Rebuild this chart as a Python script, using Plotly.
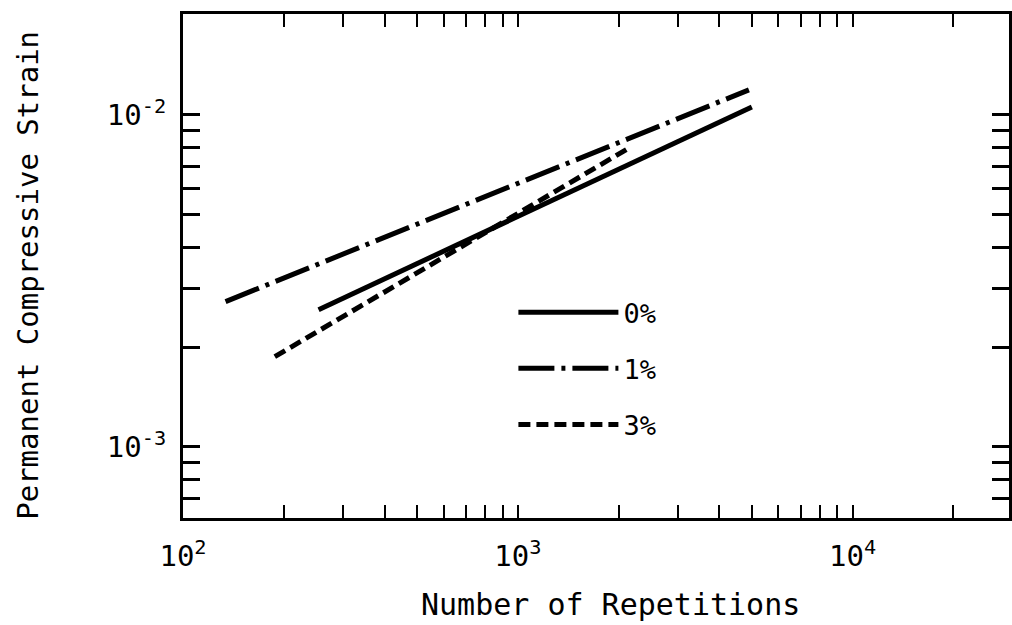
import plotly.graph_objects as go

# Regression lines of permanent strain vs. load repetitions (log-log)
series_names = ["0%", "1%", "3%"]
repetitions = {
    "0%": [254, 5000],
    "1%": [134, 4900],
    "3%": [188, 2170],
}
strain = {
    "0%": [2.59e-3, 1.057e-2],
    "1%": [2.74e-3, 1.19e-2],
    "3%": [1.87e-3, 8.0e-3],
}
dash_styles = {
    "0%": "solid",
    "1%": "36px,7px,4px,7px",
    "3%": "12px,6px",
}

# Tick positions: decades labelled, intermediate multiples unlabelled
x_tick_vals = [m * 10 ** e for e in (2, 3) for m in range(1, 10)] + [1e4, 2e4]
x_tick_text = ["10<sup>2</sup>" if v == 100 else "10<sup>3</sup>" if v == 1000 else "" for v in x_tick_vals[:-2]] + ["10<sup>4</sup>", ""]
y_tick_vals = [m * 1e-4 for m in range(7, 10)] + [m * 1e-3 for m in range(1, 11)]
y_tick_text = ["10<sup>-3</sup>" if abs(v - 1e-3) < 1e-12 else "10<sup>-2</sup>" if abs(v - 1e-2) < 1e-12 else "" for v in y_tick_vals]

FONT = "DejaVu Sans Mono"

fig = go.Figure()
for i, name in enumerate(series_names):
    fig.add_trace(go.Scatter(
        x=repetitions[name], y=strain[name], mode="lines", name=name,
        legendgroup=name,
        line=dict(color="black", width=5, dash=dash_styles[name]),
    ))

fig.update_layout(
    width=1012, height=625,
    margin=dict(l=183, r=0, t=14, b=107),
    paper_bgcolor="white", plot_bgcolor="white",
    font=dict(family=FONT, color="black", size=24),
    showlegend=True,
    legend=dict(
        x=0.40, y=0.456, xanchor="left", yanchor="top",
        bgcolor="rgba(0,0,0,0)", borderwidth=0,
        itemwidth=100, tracegroupgap=18,
        font=dict(family=FONT, size=27),
        itemclick=False,
    ),
    xaxis=dict(
        type="log", range=[2, 4.467],
        tickmode="array", tickvals=x_tick_vals, ticktext=x_tick_text,
        ticks="inside", ticklen=13, tickwidth=2, tickcolor="black",
        showline=True, linewidth=3, linecolor="black", mirror="ticks",
        showgrid=False, zeroline=False, ticklabelstandoff=10,
        tickfont=dict(family=FONT, size=29),
    ),
    yaxis=dict(
        type="log", range=[-3.214, -1.696],
        tickmode="array", tickvals=y_tick_vals, ticktext=y_tick_text,
        ticks="inside", ticklen=17, tickwidth=3, tickcolor="black",
        showline=True, linewidth=3, linecolor="black", mirror="ticks",
        showgrid=False, zeroline=False, ticklabelstandoff=8,
        tickfont=dict(family=FONT, size=29),
    ),
    annotations=[
        dict(text="Number of Repetitions", xref="paper", yref="paper",
             x=0.518, y=-0.172, xanchor="center", yanchor="middle",
             showarrow=False, font=dict(family=FONT, size=30)),
        dict(text="Permanent Compressive Strain", xref="paper", yref="paper",
             x=-0.188, y=0.482, xanchor="center", yanchor="middle", textangle=-90,
             showarrow=False, font=dict(family=FONT, size=29)),
    ],
)

fig.write_html("out.html")
